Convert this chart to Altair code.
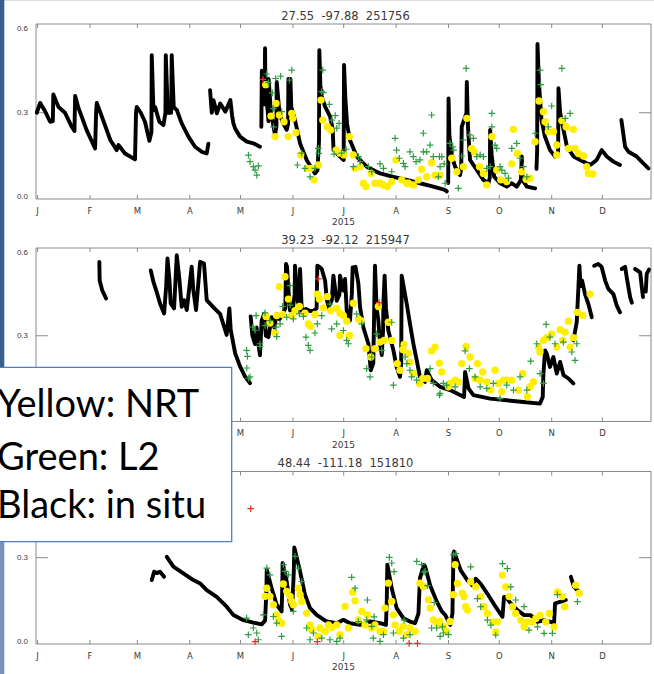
import altair as alt
import pandas as pd

# ---------------- text / tick data ----------------
MONTH_DAYS = [0, 31, 59, 90, 120, 151, 181, 212, 243, 273, 304, 334]
MONTH_LABELS = ["J", "F", "M", "A", "M", "J", "J", "A", "S", "O", "N", "D"]
Y_TICKS = [0.0, 0.3, 0.6]
Y_TICK_LABELS = ["0.0", "0.3", "0.6"]
Y_INNER_TICKS = [0.3]
YEAR_LABEL = "2015"
TITLES = ["27.55 \u00a0-97.88 \u00a0251756",
          "39.23 \u00a0-92.12 \u00a0215947",
          "48.44 \u00a0-111.18 \u00a0151810"]
LEGEND_LINES = ["Yellow: NRT", "Green: L2", "Black: in situ"]

# ---------------- panel 1 data (day of year, soil moisture) ----------------
P1_INSITU = [
    [(-0.5, 0.30), (1.5, 0.335), (4, 0.31), (7.4, 0.268), (9.0, 0.27), (9.3, 0.365), (12.3, 0.321),
     (16.2, 0.30), (20.2, 0.25), (21.8, 0.235), (22.2, 0.36), (24, 0.32), (29, 0.238), (34, 0.173),
     (34.6, 0.30), (35, 0.335), (38, 0.286), (43, 0.203), (46.8, 0.167), (47.8, 0.185), (51.7, 0.155),
     (57.6, 0.134), (58.2, 0.30), (58.6, 0.321), (61, 0.30), (63.5, 0.268), (66.1, 0.2), (67.3, 0.23),
     (67.5, 0.505), (68.5, 0.31), (69.5, 0.32), (72, 0.268), (74.4, 0.256), (75.6, 0.3), (75.8, 0.505),
     (77, 0.30), (79, 0.30), (79.3, 0.505), (80.5, 0.32), (82.3, 0.31), (85.2, 0.262), (89.2, 0.215),
     (93.1, 0.179), (97.1, 0.161), (100, 0.155), (101, 0.19)],
    [(102, 0.38), (103, 0.30), (104, 0.345), (106, 0.298), (108, 0.333), (111, 0.304), (114, 0.345),
     (115, 0.29), (115.8, 0.262), (116.8, 0.244), (119.7, 0.215), (123.7, 0.197), (127.6, 0.191),
     (131.5, 0.179)],
    [(132.3, 0.25), (132.6, 0.45), (133.5, 0.35), (134.2, 0.33), (134.5, 0.53), (134.8, 0.36), (136, 0.31),
     (136.5, 0.27), (136.6, 0.42), (138, 0.30), (140.4, 0.221), (141.2, 0.25), (141.4, 0.41), (143, 0.30),
     (145, 0.265), (147.3, 0.239), (148.1, 0.26), (148.3, 0.42), (149.5, 0.42), (150, 0.32), (152.2, 0.274),
     (155.2, 0.191), (159.1, 0.132), (162.1, 0.102), (164, 0.084), (165.5, 0.095), (166.4, 0.2),
     (166.6, 0.523), (167.2, 0.40), (168, 0.357), (170, 0.322), (173, 0.286), (174.5, 0.24), (175, 0.167),
     (178.8, 0.144), (181, 0.132), (181.2, 0.47), (182, 0.35), (183, 0.26), (184.7, 0.203), (188.7, 0.144),
     (194.6, 0.108), (202.5, 0.084), (210.4, 0.072), (218.3, 0.061), (226.1, 0.049), (234, 0.037),
     (240.9, 0.025), (242, 0.02)],
    [(242.8, 0.05), (243, 0.351), (243.5, 0.22), (245, 0.144), (246.9, 0.108), (249.8, 0.078), (250.5, 0.10),
     (250.8, 0.25), (253.6, 0.30), (253.8, 0.41), (254.5, 0.25), (255.7, 0.132), (259.7, 0.096),
     (263.6, 0.061), (266.6, 0.049), (267.4, 0.07), (267.6, 0.239), (268.5, 0.15), (270, 0.072),
     (273.5, 0.049), (277.4, 0.037), (280.4, 0.049), (283.3, 0.037), (285.8, 0.06), (286.3, 0.144),
     (286.8, 0.06), (289.3, 0.037), (294.2, 0.031)],
    [(295, 0.10), (295.4, 0.167), (295.6, 0.545), (296.5, 0.40), (298, 0.274), (300, 0.215), (303, 0.167),
     (306, 0.144), (307.8, 0.16), (308, 0.387), (309, 0.30), (311, 0.239), (313, 0.179), (317, 0.144),
     (320.8, 0.132), (324.7, 0.12), (327, 0.115), (330.6, 0.132), (333.6, 0.167), (336.6, 0.144),
     (340.5, 0.126), (344.4, 0.114)],
    [(345.2, 0.274), (346, 0.24), (347.4, 0.179), (349.4, 0.161), (354.3, 0.144), (358.2, 0.12),
     (361.2, 0.102)],
]
P1_NRT = [
    (134.9, 0.40), (138, 0.288), (140.4, 0.215), (141, 0.333), (143, 0.292), (145.7, 0.268), (148.3, 0.215),
    (150.3, 0.298), (150.9, 0.28), (152.8, 0.229), (155.6, 0.15), (159.1, 0.102), (161.5, 0.102),
    (163.5, 0.061), (166, 0.114), (167.6, 0.345), (168.6, 0.274), (171.3, 0.25), (173.3, 0.239),
    (176.5, 0.167), (178.8, 0.156), (181.2, 0.15), (184.4, 0.215), (186.7, 0.15), (187.7, 0.102),
    (190.7, 0.108), (192.6, 0.049), (194.2, 0.037), (197.2, 0.084), (199.5, 0.049), (202.5, 0.049),
    (204.5, 0.043), (206.8, 0.037), (209.4, 0.055), (211.9, 0.132), (215.3, 0.061), (218.3, 0.049),
    (219.3, 0.049), (222.2, 0.043), (225.2, 0.061), (227.1, 0.099), (230.1, 0.072), (233, 0.122),
    (235, 0.078), (236.5, 0.078), (238, 0.078), (244.9, 0.138), (247.9, 0.09), (251.8, 0.108),
    (253.8, 0.28), (256.7, 0.173), (258.3, 0.161), (261.3, 0.108), (263.6, 0.084), (265.6, 0.043),
    (268.6, 0.215), (271.5, 0.096), (273.9, 0.061), (277.4, 0.055), (280.4, 0.118), (281.4, 0.241),
    (283.7, 0.155), (286.3, 0.09), (288.9, 0.063), (291.2, 0.067), (294.2, 0.197), (296.5, 0.342),
    (299.1, 0.304), (300.1, 0.268), (302, 0.233), (305, 0.233), (307, 0.185), (307, 0.15), (310, 0.272),
    (312.5, 0.25), (313.9, 0.173), (316.8, 0.241), (317.8, 0.173), (319.8, 0.155), (322.8, 0.146),
    (324.7, 0.108), (325.7, 0.084), (328.3, 0.082)]
P1_L2 = [
    (124.7, 0.149), (125.6, 0.126), (127.6, 0.108), (128.6, 0.096), (129.6, 0.078), (130.6, 0.111),
    (135.5, 0.438), (136.5, 0.407), (138.8, 0.371), (139.4, 0.315), (140.8, 0.422), (143.7, 0.43),
    (139.5, 0.25), (144.3, 0.304), (148.9, 0.416), (150.3, 0.452), (153.6, 0.114), (156.2, 0.156),
    (158.1, 0.102), (161.1, 0.072), (164, 0.102), (166, 0.173), (166.2, 0.155), (168, 0.375), (168.6, 0.452),
    (169, 0.372), (172.5, 0.33), (173.9, 0.274), (175.3, 0.153), (176, 0.29), (176.9, 0.245), (178.3, 0.262),
    (179.8, 0.156), (182.4, 0.17), (186.7, 0.108), (189.7, 0.144), (190.7, 0.126), (195.6, 0.108),
    (197.6, 0.09), (202.5, 0.118), (204.5, 0.102), (209.4, 0.09), (211.4, 0.209), (212.3, 0.167),
    (213.9, 0.138), (216.3, 0.12), (217.3, 0.108), (220.2, 0.161), (222.2, 0.144), (223.8, 0.126),
    (226.1, 0.132), (228.1, 0.227), (228.1, 0.161), (230.1, 0.161), (233, 0.292), (232.1, 0.185),
    (234, 0.144), (237.6, 0.144), (238, 0.108), (237, 0.072), (239, 0.144), (240.4, 0.118), (241, 0.049),
    (243.9, 0.191), (245.5, 0.179), (246, 0.167), (248.8, 0.031), (250.8, 0.146), (251.8, 0.203),
    (253.4, 0.458), (255.3, 0.221), (257.7, 0.209), (259.7, 0.144), (261.7, 0.15), (263.6, 0.144),
    (265.6, 0.102), (267.6, 0.108), (268.6, 0.25), (268.6, 0.298), (270.5, 0.185), (271.5, 0.173),
    (273.5, 0.108), (274.5, 0.096), (276.4, 0.084), (278.4, 0.067), (280.4, 0.173), (283.3, 0.191),
    (285.3, 0.138), (287.3, 0.108), (289.3, 0.072), (294.2, 0.227), (297.1, 0.452), (297.5, 0.40),
    (302, 0.25), (304, 0.324), (310, 0.458), (312, 0.28), (314.9, 0.298)]
P1_FLAG = [(133.3, 0.419)]

# ---------------- panel 2 data ----------------
P2_INSITU = [
    [(36.5, 0.568), (36.7, 0.50), (38.2, 0.465), (40.5, 0.435)],
    [(66.9, 0.537), (68.5, 0.495), (70.4, 0.459), (72.4, 0.417), (74.8, 0.381), (76, 0.477), (76.8, 0.58),
     (78, 0.501), (78.7, 0.417), (80.7, 0.399), (82.3, 0.592), (83.9, 0.501), (85.2, 0.405), (86.6, 0.429),
     (88.2, 0.393), (91.1, 0.55), (92.1, 0.465), (93.7, 0.393), (96.1, 0.568), (98.4, 0.562), (100, 0.429),
     (104, 0.403), (107.9, 0.379), (110.3, 0.333), (111.8, 0.303), (113.4, 0.399), (114.2, 0.321),
     (116.8, 0.237), (119.7, 0.189), (122.7, 0.152), (125.6, 0.128)],
    [(126, 0.37), (127, 0.30), (128.6, 0.27), (129.5, 0.33), (131, 0.25), (131.5, 0.229), (132.5, 0.355),
     (134, 0.38), (135, 0.30), (136.5, 0.295), (138.4, 0.367), (140, 0.33), (141.4, 0.379), (143, 0.36),
     (145, 0.38), (146.5, 0.40), (146.9, 0.56), (147.5, 0.55), (148.5, 0.45), (149.3, 0.391), (151, 0.40),
     (152, 0.45), (152.2, 0.554), (153.5, 0.45), (154.5, 0.39), (155, 0.45), (155.2, 0.542), (156.2, 0.391),
     (158.7, 0.397), (161, 0.39), (163, 0.39), (165, 0.40), (165.4, 0.554), (166.5, 0.55), (168, 0.542),
     (170, 0.50), (171, 0.433), (172, 0.403), (174, 0.43), (174.9, 0.518), (176.9, 0.427), (178.5, 0.45),
     (178.8, 0.518), (180.8, 0.464), (181.8, 0.506), (182.8, 0.391), (184.7, 0.355), (185.8, 0.45),
     (186.3, 0.548), (188, 0.55), (189.7, 0.488), (190.7, 0.403), (192.6, 0.331), (195.6, 0.271),
     (197, 0.175), (198.5, 0.2), (199.2, 0.45), (199.5, 0.554), (200.5, 0.40), (201.5, 0.355),
     (202.5, 0.271), (203.5, 0.23), (204.3, 0.32), (204.5, 0.421), (205.2, 0.518), (206, 0.40),
     (207.4, 0.319), (210.4, 0.247), (212.3, 0.187), (214.3, 0.151), (215, 0.20), (215.3, 0.518),
     (218.3, 0.415), (220.2, 0.343), (222.2, 0.271), (224.2, 0.211), (226.1, 0.151), (229.1, 0.133),
     (230.1, 0.175), (233, 0.139), (238, 0.115), (243.9, 0.103), (249.8, 0.085), (252.2, 0.078),
     (252.8, 0.169), (254.8, 0.109), (257.7, 0.085), (267.6, 0.072), (277.4, 0.066), (287.3, 0.06),
     (297.1, 0.054), (298.7, 0.078), (299.1, 0.163), (300.1, 0.247), (301.1, 0.235), (303, 0.187),
     (305, 0.223), (307, 0.163), (309, 0.205), (311, 0.157), (313.9, 0.145), (316.8, 0.127)],
    [(316.8, 0.283), (318.8, 0.349), (319.6, 0.45), (320.4, 0.554), (321, 0.48), (322, 0.50),
     (323.7, 0.451), (325.7, 0.415), (327.7, 0.367)],
    [(329.1, 0.554), (331.5, 0.56), (333.5, 0.55), (335.6, 0.50), (337.5, 0.47), (340.5, 0.451),
     (342.5, 0.409), (344.4, 0.385)],
    [(345.4, 0.542), (347.4, 0.55), (348.4, 0.51), (350.4, 0.439), (351.4, 0.42)],
    [(353.3, 0.542), (356.3, 0.53), (357.3, 0.476), (358, 0.44)],
    [(359.6, 0.46), (360.2, 0.524), (361.5, 0.54)],
]
P2_NRT = [
    (146.3, 0.514), (143, 0.478), (148.3, 0.433), (135.1, 0.37), (137.4, 0.346), (141.4, 0.373),
    (144.9, 0.377), (140.4, 0.31), (150.3, 0.373), (152.2, 0.391), (154.8, 0.406), (158.1, 0.382),
    (160.1, 0.343), (161.5, 0.334), (164, 0.377), (165.4, 0.451), (166.6, 0.433), (169, 0.401),
    (171.3, 0.442), (173.3, 0.391), (176.9, 0.4), (178.8, 0.382), (180.8, 0.373), (182.8, 0.353),
    (178.8, 0.301), (184.4, 0.301), (186.7, 0.418), (189.7, 0.361), (191.1, 0.355), (194.2, 0.253),
    (197, 0.223), (199.5, 0.253), (201.5, 0.406), (202.5, 0.277), (204.9, 0.283), (207.4, 0.349),
    (209.4, 0.283), (212.7, 0.199), (214.3, 0.175), (216.7, 0.269), (215.9, 0.25), (219.2, 0.237),
    (220.2, 0.205), (222.2, 0.163), (225.8, 0.127), (227.7, 0.145), (230.5, 0.145), (233, 0.245),
    (235, 0.259), (237.6, 0.201), (239, 0.169), (242.9, 0.115), (243.9, 0.127), (246.9, 0.139),
    (248.8, 0.133), (250.8, 0.199), (253.4, 0.261), (255.7, 0.223), (258.7, 0.145), (260.1, 0.199),
    (261.7, 0.139), (263.2, 0.169), (265.6, 0.133), (268, 0.103), (270.5, 0.175), (272.5, 0.127),
    (274.5, 0.097), (275.5, 0.139), (277.4, 0.139), (280.4, 0.139), (284.3, 0.103), (286.9, 0.163),
    (289.6, 0.079), (291.2, 0.115), (293.2, 0.133), (296.2, 0.259), (297.1, 0.241), (299.1, 0.283),
    (301.1, 0.293), (304, 0.307), (307, 0.259), (309, 0.322), (310.5, 0.283), (311.9, 0.313),
    (313.9, 0.353), (314.9, 0.259), (316.8, 0.293), (319.2, 0.385), (322.4, 0.373), (326.7, 0.451)]
P2_L2 = [
    (124.1, 0.225), (123.7, 0.183), (124.7, 0.146), (125.6, 0.151), (123.6, 0.247), (127.2, 0.331),
    (129.2, 0.373), (128.6, 0.32), (131.5, 0.271), (131.5, 0.261), (134.5, 0.337), (134.5, 0.383),
    (137.4, 0.355), (141, 0.331), (141.4, 0.297), (143.4, 0.343), (144.9, 0.406), (147.3, 0.367),
    (149.3, 0.482), (149.3, 0.411), (151.2, 0.361), (154.8, 0.379), (157.2, 0.37), (158.7, 0.295),
    (160.1, 0.265), (161.1, 0.247), (164, 0.31), (165.4, 0.343), (168, 0.373), (172.9, 0.415),
    (173.9, 0.325), (176.9, 0.343), (180.8, 0.319), (182.8, 0.283), (183.8, 0.271), (188.7, 0.379),
    (191.7, 0.343), (194.6, 0.181), (196.6, 0.151), (197.6, 0.223), (200.5, 0.307), (203.5, 0.247),
    (209.4, 0.349), (210.4, 0.121), (217.3, 0.223), (218.3, 0.199), (220.2, 0.175), (221.2, 0.151),
    (224.2, 0.139), (232.1, 0.181), (234, 0.127), (237.6, 0.085), (239.9, 0.127), (238, 0.091),
    (241.9, 0.121), (246.9, 0.115), (252.8, 0.245), (255.3, 0.181), (258.7, 0.151), (261.7, 0.115),
    (265.6, 0.109), (269.5, 0.127), (273.5, 0.072), (277.4, 0.121), (281.4, 0.103), (285.3, 0.151),
    (289.3, 0.103), (291.6, 0.208), (297.1, 0.163), (299.1, 0.127), (295.2, 0.271), (300.7, 0.341),
    (303, 0.295), (306, 0.271), (310.9, 0.277), (315.9, 0.241), (317.8, 0.211), (318.8, 0.271)]
P2_FLAG = [(166, 0.506), (202, 0.42)]

# ---------------- panel 3 data ----------------
P3_INSITU = [
    [(67.5, 0.22), (68.9, 0.25), (70.5, 0.245), (72.4, 0.25), (74.8, 0.232)],
    [(76.4, 0.303), (80.3, 0.268), (86.2, 0.244), (92.1, 0.22), (96.1, 0.208), (100, 0.184), (105.9, 0.16),
     (111.8, 0.125), (115.8, 0.095), (121.7, 0.077), (127.6, 0.068), (132.5, 0.062), (134.5, 0.075),
     (135.3, 0.18), (135.5, 0.257), (138.4, 0.191), (141.4, 0.132), (144.3, 0.108), (144.7, 0.2),
     (144.9, 0.281), (147.3, 0.215), (149.3, 0.132), (150.5, 0.115), (151.5, 0.25), (151.8, 0.337),
     (155.2, 0.251), (158.1, 0.168), (161.1, 0.12), (165, 0.096), (171, 0.072), (176.9, 0.066),
     (180.8, 0.078), (184.7, 0.066), (190.7, 0.06), (196.6, 0.072), (202.5, 0.066), (206, 0.06),
     (206.5, 0.15), (206.8, 0.275), (209.4, 0.191), (212.3, 0.12), (216.3, 0.084), (220.2, 0.072),
     (223.2, 0.066), (225.2, 0.10), (226.1, 0.227), (227.7, 0.26), (228.5, 0.274), (229.1, 0.269),
     (232.2, 0.2), (236, 0.144), (239, 0.108), (241, 0.096), (244, 0.06), (245.3, 0.1), (245.9, 0.316),
     (246.3, 0.322), (250.2, 0.255), (254.2, 0.219), (257.1, 0.201), (259.1, 0.225), (262, 0.207),
     (266, 0.171), (270.9, 0.124), (274.9, 0.089), (275.8, 0.16), (276.8, 0.16), (279.8, 0.137),
     (283.7, 0.113), (287.7, 0.095), (291.6, 0.095), (295.6, 0.071), (299.5, 0.077), (303.4, 0.071),
     (305.4, 0.065), (306, 0.137), (309.4, 0.143), (312.3, 0.149)],
    [(315.3, 0.232), (317.2, 0.196), (320.2, 0.178), (321, 0.17)],
]
P3_NRT = [
    (135.5, 0.191), (134.5, 0.162), (137.4, 0.162), (139.4, 0.132), (141.4, 0.096), (144.3, 0.066),
    (142.4, 0.078), (145.3, 0.206), (147.3, 0.18), (149.3, 0.162), (150.3, 0.144), (151.2, 0.132),
    (154.2, 0.191), (155.2, 0.168), (156.2, 0.144), (159.1, 0.102), (161.1, 0.06), (162.1, 0.043),
    (166, 0.019), (167, 0.049), (170, 0.037), (172, 0.06), (173.9, 0.051), (176.9, 0.06), (178.8, 0.025),
    (181.8, 0.126), (183.8, 0.049), (186.3, 0.177), (187.7, 0.146), (189.7, 0.078), (191.7, 0.108),
    (193.6, 0.06), (195, 0.096), (197.6, 0.049), (199.5, 0.06), (202.5, 0.037), (204.5, 0.037),
    (205.4, 0.12), (207.4, 0.209), (209.4, 0.144), (210.4, 0.096), (211.4, 0.06), (213.9, 0.037),
    (216.3, 0.055), (218.3, 0.025), (220.2, 0.049), (223.2, 0.037), (226.1, 0.209), (228.1, 0.197),
    (231.1, 0.15), (232.1, 0.12), (234, 0.078), (236, 0.066), (238, 0.072), (239.9, 0.055),
    (241.9, 0.037), (243.9, 0.072), (245.9, 0.168), (246.9, 0.275), (248.3, 0.208), (251.2, 0.173),
    (252.2, 0.161), (253.2, 0.125), (254.2, 0.113), (256.1, 0.214), (259.1, 0.196), (262, 0.161),
    (264, 0.125), (266, 0.101), (269, 0.071), (270.9, 0.035), (271.9, 0.071), (274.9, 0.238),
    (276.8, 0.196), (278.8, 0.161), (280.8, 0.125), (282.7, 0.101), (285.7, 0.077), (287.7, 0.053),
    (289.6, 0.071), (292.6, 0.071), (294.6, 0.083), (297.1, 0.095), (300.5, 0.071), (302.5, 0.101),
    (305.4, 0.053), (307.4, 0.178), (310.3, 0.161), (311.7, 0.125), (318.2, 0.202), (320.2, 0.173)]
P3_L2 = [
    (123.6, 0.084), (124.6, 0.025), (127.6, 0.049), (129.6, 0.031), (130.5, 0.007), (133.5, 0.096),
    (135.5, 0.263), (137.4, 0.239), (139.4, 0.09), (141.4, 0.066), (144.3, 0.019), (145.3, 0.275),
    (146.3, 0.251), (148.3, 0.239), (151.2, 0.108), (152.2, 0.305), (154.2, 0.263), (156.2, 0.215),
    (159.1, 0.049), (161.1, 0.007), (163.1, 0.031), (168, 0.013), (172.9, 0.007), (176.9, 0.001),
    (178.8, 0.013), (185.7, 0.23), (187.7, 0.191), (189.7, 0.072), (194.6, 0.078), (195, 0.149),
    (197.6, 0.055), (198.5, 0.013), (199, 0.089), (202.5, 0.001), (204.5, 0.025), (208, 0.301),
    (209.4, 0.281), (210.4, 0.031), (210.8, 0.25), (216.3, 0.013), (216.7, 0.077), (220.2, 0.025),
    (224.2, 0.287), (227.1, 0.275), (228.5, 0.248), (229.1, 0.251), (230.5, 0.2), (233, 0.049),
    (234.5, 0.14), (236, 0.049), (238, 0.019), (239.4, 0.053), (239.9, 0.031), (242.9, 0.025),
    (245.9, 0.31), (247.3, 0.315), (256.1, 0.267), (260.1, 0.154), (262, 0.125), (266, 0.077),
    (268, 0.059), (270.9, 0.024), (274.9, 0.279), (277.8, 0.261), (279.8, 0.196), (282.7, 0.149),
    (287.7, 0.125), (290.6, 0.041), (295.6, 0.053), (299.5, 0.03), (304.4, 0.03), (307.4, 0.168),
    (319.2, 0.143)]
P3_FLAG = [(126, 0.475), (128.6, 0.0), (165.4, 0.0), (219.7, -0.006), (224.6, -0.006)]

# ---------------- layout & style ----------------
W, H = 654, 674
X_DOMAIN = [0, 360]
X_RANGE = [37.6, 646.4]
FRAME_L, FRAME_R = 36, 651
PANELS = [
    dict(top=24, bottom=199, yrange=[197, 28.5]),
    dict(top=248, bottom=421.5, yrange=[418.5, 253]),
    dict(top=471.5, bottom=644, yrange=[641.7, 473.7]),
]
FRAME_COLOR = "#8a8a8a"
LABEL_COLOR = "#3a3a3a"
YELLOW = "#FFEE00"
GREEN = "#2E9D42"
RED = "#E2302A"
PLUS = "M-1,0L1,0M0,-1L0,1"
ONE = pd.DataFrame({"k": [0]})


def pts_df(pts):
    return pd.DataFrame(pts, columns=["day", "val"])


def seg_df(segs):
    rows = []
    for s, seg in enumerate(segs):
        for i, (d, v) in enumerate(seg):
            rows.append({"seg": s, "i": i, "day": d, "val": v})
    return pd.DataFrame(rows)


def make_panel(idx, title, insitu, nrt, l2, flag):
    p = PANELS[idx]
    top, bottom = p["top"], p["bottom"]
    xs = alt.Scale(domain=X_DOMAIN, range=X_RANGE, zero=False, nice=False)
    ys = alt.Scale(domain=[0, 0.6], range=p["yrange"], zero=False, nice=False)

    def X(f):
        return alt.X(f, type="quantitative", scale=xs, axis=None)

    def Y(f):
        return alt.Y(f, type="quantitative", scale=ys, axis=None)

    frame = alt.Chart(ONE).mark_rect(
        fill="#ffffff", fillOpacity=0, stroke=FRAME_COLOR, strokeWidth=1
    ).encode(x=alt.value(FRAME_L), x2=alt.value(FRAME_R), y=alt.value(top), y2=alt.value(bottom))

    yt = pd.DataFrame({"v": Y_INNER_TICKS})
    ytick_l = alt.Chart(yt).mark_rule(color=FRAME_COLOR, strokeWidth=1).encode(
        y=Y("v"), x=alt.value(FRAME_L), x2=alt.value(FRAME_L + 12))
    ytick_r = alt.Chart(yt).mark_rule(color=FRAME_COLOR, strokeWidth=1).encode(
        y=Y("v"), x=alt.value(FRAME_R - 12), x2=alt.value(FRAME_R))

    mdf = pd.DataFrame({"d": MONTH_DAYS, "m": MONTH_LABELS})
    mt_top = alt.Chart(mdf).mark_rule(color=FRAME_COLOR, strokeWidth=1).encode(
        x=X("d"), y=alt.value(top), y2=alt.value(top + 4))
    mt_bot = alt.Chart(mdf).mark_rule(color=FRAME_COLOR, strokeWidth=1).encode(
        x=X("d"), y=alt.value(bottom - 4), y2=alt.value(bottom))
    mlab = alt.Chart(mdf).mark_text(
        align="center", baseline="middle", font="DejaVu Sans", fontSize=8.5, color=LABEL_COLOR
    ).encode(x=X("d"), y=alt.value(bottom + 11.5), text="m:N")

    ydf = pd.DataFrame({"v": Y_TICKS, "lab": Y_TICK_LABELS})
    ylab = alt.Chart(ydf).mark_text(
        align="right", baseline="middle", font="Liberation Sans", fontSize=8, color=LABEL_COLOR
    ).encode(y=Y("v"), x=alt.value(28), text="lab:N")

    year = alt.Chart(ONE).mark_text(
        align="center", baseline="middle", font="DejaVu Sans", fontSize=9, color=LABEL_COLOR
    ).encode(x=alt.value(343.5), y=alt.value(bottom + 23), text=alt.value(YEAR_LABEL))

    ttl = alt.Chart(ONE).mark_text(
        align="center", baseline="middle", font="DejaVu Sans", fontSize=11.5, color=LABEL_COLOR
    ).encode(x=alt.value(345.5), y=alt.value(top - 7.5), text=alt.value(title))

    black = alt.Chart(seg_df(insitu)).mark_line(
        color="black", strokeWidth=3.9, strokeCap="round", strokeJoin="round"
    ).encode(x=X("day"), y=Y("val"), detail="seg:N", order="i:Q")

    yellow = alt.Chart(pts_df(nrt)).mark_circle(color=YELLOW, opacity=1, size=54).encode(
        x=X("day"), y=Y("val"))

    green = alt.Chart(pts_df(l2)).mark_point(
        shape=PLUS, filled=False, color=GREEN, strokeWidth=1.2, size=44, opacity=1
    ).encode(x=X("day"), y=Y("val"))

    red = alt.Chart(pts_df(flag)).mark_point(
        shape=PLUS, filled=False, color=RED, strokeWidth=1.2, size=44, opacity=1
    ).encode(x=X("day"), y=Y("val"))

    return alt.layer(frame, ytick_l, ytick_r, mt_top, mt_bot, mlab, ylab, year, ttl,
                     black, yellow, green, red)


p1 = make_panel(0, TITLES[0], P1_INSITU, P1_NRT, P1_L2, P1_FLAG)
p2 = make_panel(1, TITLES[1], P2_INSITU, P2_NRT, P2_L2, P2_FLAG)
p3 = make_panel(2, TITLES[2], P3_INSITU, P3_NRT, P3_L2, P3_FLAG)

strip_top = alt.Chart(ONE).mark_rect(color="#3B5E8E").encode(
    x=alt.value(0), x2=alt.value(4.3), y=alt.value(0), y2=alt.value(367))
strip_bot = alt.Chart(ONE).mark_rect(color="#7891BB").encode(
    x=alt.value(0), x2=alt.value(4.3), y=alt.value(541), y2=alt.value(H))

box = alt.Chart(ONE).mark_rect(fill="white", stroke="#4F7FBF", strokeWidth=1.3).encode(
    x=alt.value(-5), x2=alt.value(231.7), y=alt.value(367.3), y2=alt.value(541.7))

legend_layers = []
for line, yb in zip(LEGEND_LINES, [416.7, 469.5, 518.3]):
    legend_layers.append(
        alt.Chart(ONE).mark_text(
            align="left", baseline="alphabetic", font="Lato", fontSize=38, color="black"
        ).encode(x=alt.value(-3), y=alt.value(yb), text=alt.value(line))
    )

chart = alt.layer(strip_top, strip_bot, p1, p2, p3, box, *legend_layers).resolve_scale(
    y="independent"
).properties(
    width=W, height=H, autosize=alt.AutoSizeParams(type="none"), padding=0
).configure_view(strokeWidth=0).configure(background="white")

chart.save("out.html", embed_options={"renderer": "svg", "actions": False})
